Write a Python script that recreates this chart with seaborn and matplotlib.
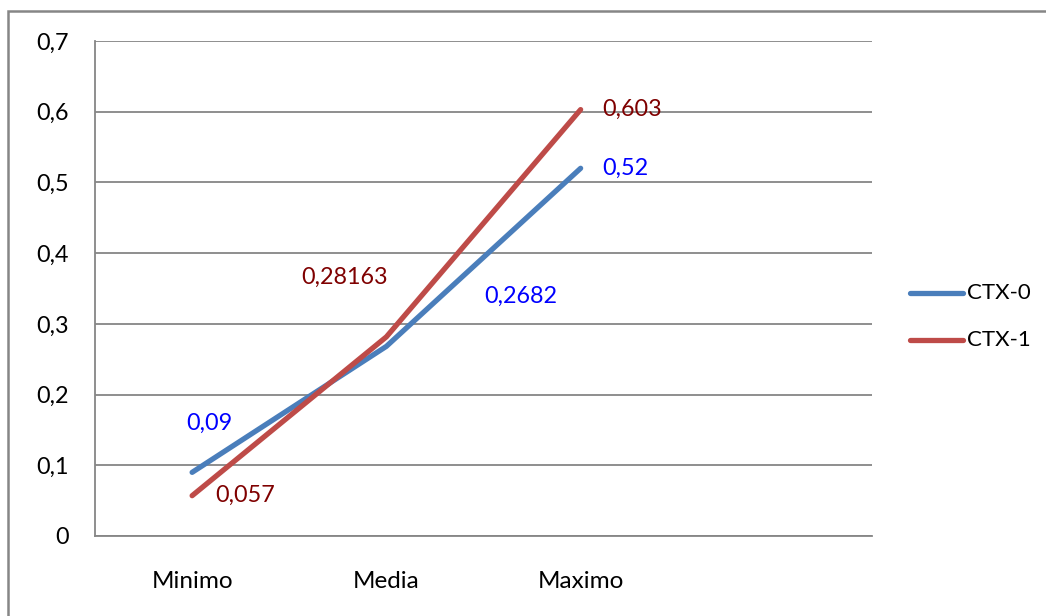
import numpy as np
import pandas as pd
import seaborn as sns
import matplotlib.pyplot as plt
from matplotlib.patches import Rectangle

categories = ['Minimo', 'Media', 'Maximo']
ctx0 = [0.09, 0.2682, 0.52]
ctx1 = [0.057, 0.28163, 0.603]
series_names = ['CTX-0', 'CTX-1']

sns.set_style('white')
plt.rcParams['font.family'] = ['Lato', 'DejaVu Sans']
FS_NUM = 16.8
FS_TXT = 17.5

df = pd.DataFrame({
    'cat': categories * 2,
    'val': ctx0 + ctx1,
    'serie': [series_names[0]] * 3 + [series_names[1]] * 3,
})

W, H = 1046, 616
fig = plt.figure(figsize=(W / 100, H / 100), dpi=100)
ax = fig.add_axes([95 / W, 1 - 536 / H, (872 - 95) / W, (536 - 41) / H])

line_colors = {'CTX-0': '#4A7EBB', 'CTX-1': '#BE4B48'}
sns.lineplot(data=df, x='cat', y='val', hue='serie', palette=line_colors,
             linewidth=3.8, ax=ax, legend=False, sort=False)
for l in ax.lines:
    l.set_solid_capstyle('round')

grey = '#868686'
ax.set_xlim(-0.5, 3.5)
ax.set_ylim(0, 0.7)
ax.set_yticks(np.arange(0, 0.71, 0.1))
ax.set_yticklabels([('%.1f' % v).replace('.', ',') if v > 0 else '0'
                    for v in np.arange(0, 0.71, 0.1)])
ax.set_xticks(range(3))
ax.set_xticklabels(categories)
ax.set_xticks(np.arange(-0.5, 3.6, 1), minor=True)
ax.tick_params(axis='x', which='major', length=0, pad=25, labelsize=FS_TXT, labelcolor='black')
ax.tick_params(axis='x', which='minor', length=6, color=grey, width=1.2, direction='out')
ax.tick_params(axis='y', length=6, color=grey, width=1.2, direction='out', pad=13,
               labelsize=FS_NUM, labelcolor='black')
ax.grid(axis='y', color=grey, linewidth=1.3)
ax.set_axisbelow(True)
for s in ['top', 'right']:
    ax.spines[s].set_visible(False)
for s in ['left', 'bottom']:
    ax.spines[s].set_color(grey)
    ax.spines[s].set_linewidth(1.3)
ax.set_xlabel('')
ax.set_ylabel('')

# data labels
offsets0 = [(17, 49), (134, 50), (45, 0)]
offsets1 = [(53, 0), (-42, 60), (51, 0)]
for i, v in enumerate(ctx0):
    ax.annotate(str(v).replace('.', ','), (i, v), xytext=offsets0[i],
                textcoords='offset pixels', ha='center', va='center',
                color='#0000FF', fontsize=FS_NUM)
for i, v in enumerate(ctx1):
    ax.annotate(str(v).replace('.', ','), (i, v), xytext=offsets1[i],
                textcoords='offset pixels', ha='center', va='center',
                color='#7F0000', fontsize=FS_NUM)

# legend
for name, ypx in zip(series_names, [293, 340]):
    y = 1 - ypx / H
    fig.add_artist(plt.Line2D([910 / W, 963 / W], [y, y], color=line_colors[name],
                              linewidth=3.8, solid_capstyle='round'))
    fig.text(967 / W, y, name, va='center', ha='left', fontsize=16, color='black')

fig.add_artist(Rectangle((7.5 / W, -0.1), 1.2, 1.1 - 10.5 / H, transform=fig.transFigure,
                         fill=False, edgecolor=grey, linewidth=1.8))

fig.savefig('out.png', dpi=100)
